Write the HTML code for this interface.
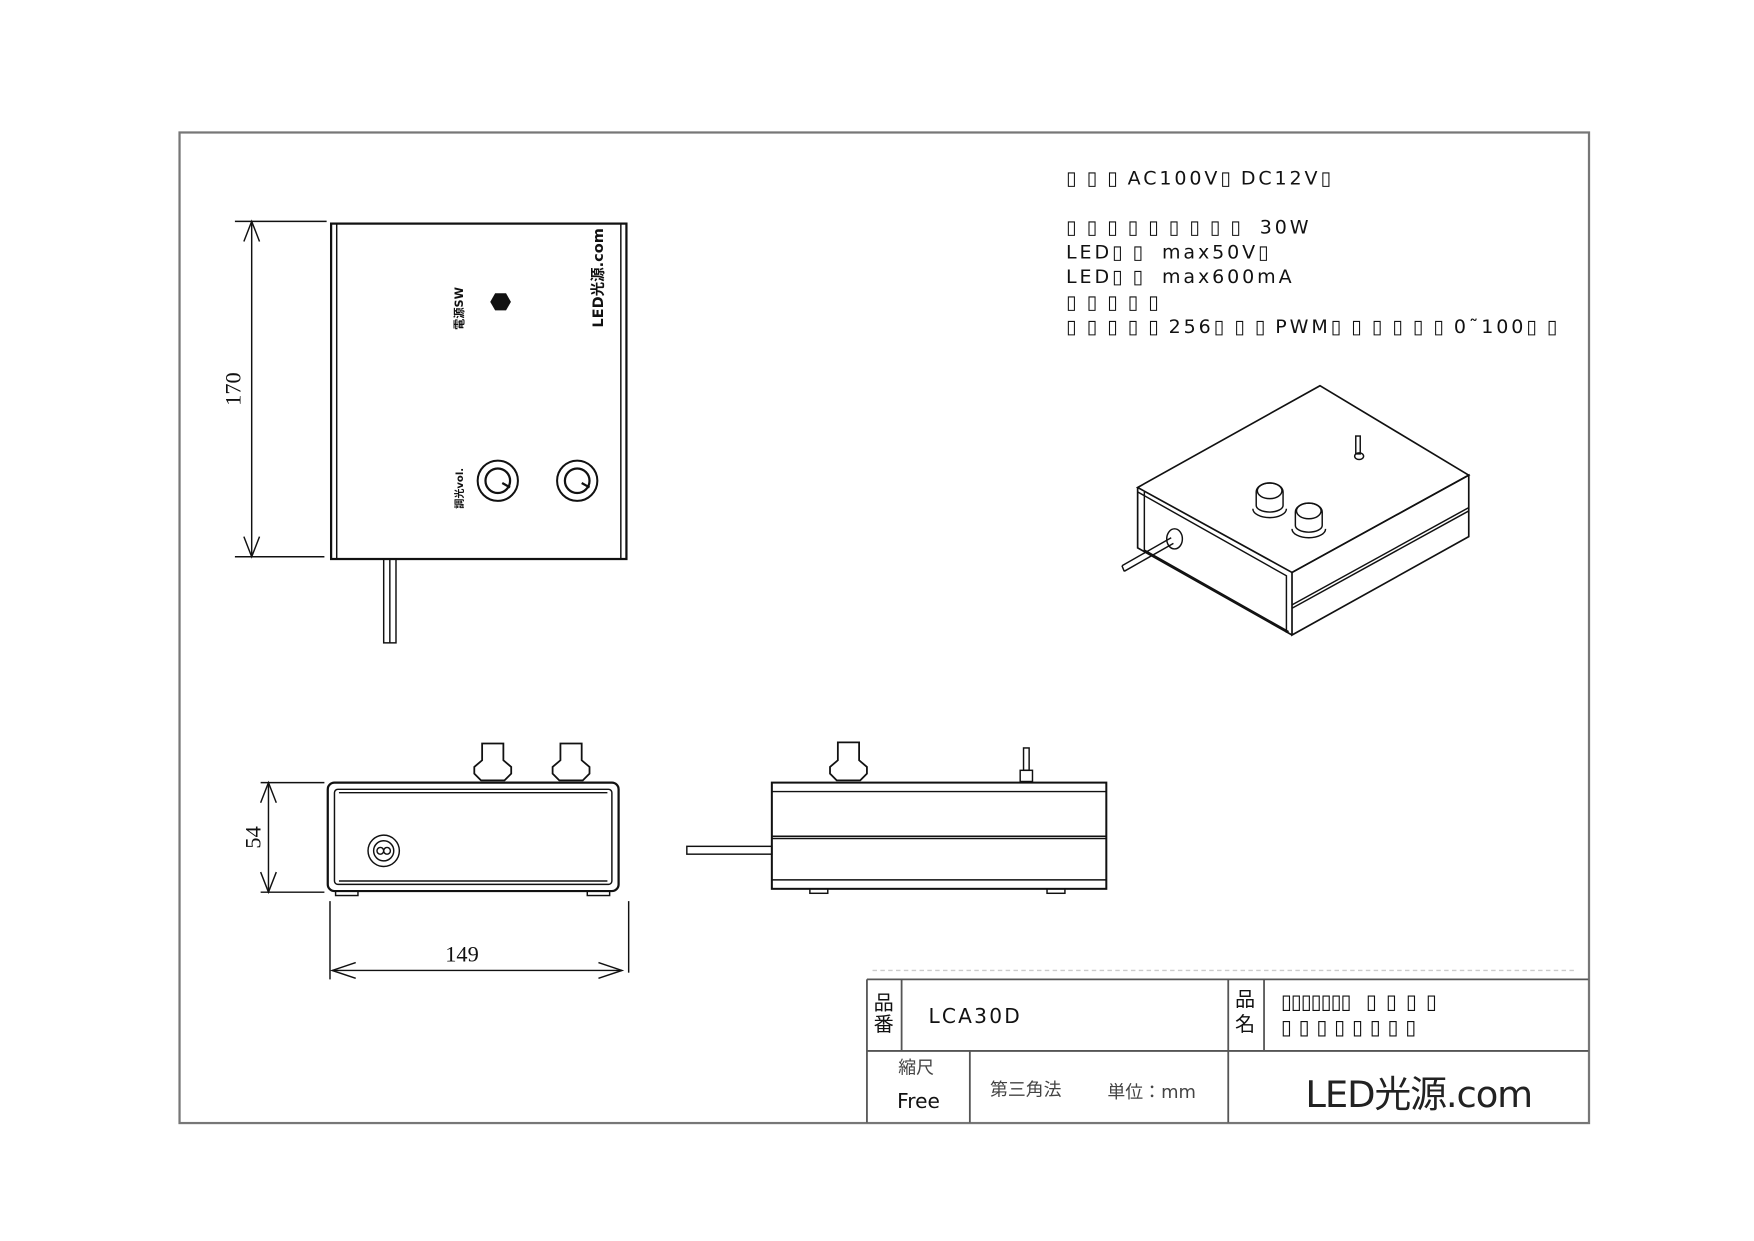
<!DOCTYPE html>
<html><head><meta charset="utf-8"><style>
html,body{margin:0;padding:0;background:#fff;width:1754px;height:1241px;overflow:hidden}
svg{display:block}
text{font-family:"DejaVu Sans","Liberation Sans","Noto Sans CJK JP",sans-serif;fill:#111}
.s{font-size:17px;letter-spacing:2.6px}
.b{letter-spacing:9px}
</style></head><body>
<svg width="1754" height="1241" viewBox="0 0 1568 1110" preserveAspectRatio="none" xmlns="http://www.w3.org/2000/svg">
<g fill="none" stroke="#111" stroke-width="1.3">
<rect x="160.5" y="118.5" width="1260" height="886" stroke="#777" stroke-width="2"/>
<!-- top view -->
<rect x="296" y="200" width="264" height="300" stroke-width="2"/>
<line x1="301" y1="200" x2="301" y2="500"/><line x1="555" y1="200" x2="555" y2="500"/>
<rect x="343" y="500" width="11" height="75"/><line x1="348.5" y1="500" x2="348.5" y2="575"/>
<circle cx="445" cy="430" r="18" stroke-width="1.8"/><circle cx="445" cy="430" r="11" stroke-width="2"/><line x1="449" y1="432" x2="456" y2="436" stroke-width="2"/>
<circle cx="516" cy="430" r="18" stroke-width="1.8"/><circle cx="516" cy="430" r="11" stroke-width="2"/><line x1="520" y1="432" x2="527" y2="436" stroke-width="2"/>
<polygon points="443,263 452,263 456,270 452,277 443,277 439,270" fill="#111"/>
<!-- dims 170 -->
<line x1="210" y1="198" x2="292" y2="198"/><line x1="210" y1="498" x2="290" y2="498"/>
<line x1="225" y1="198" x2="225" y2="498"/>
<polyline points="218,216 225,198 232,216"/><polyline points="218,480 225,498 232,480"/>
<!-- front view -->
<rect x="293" y="700" width="260" height="97" rx="6" stroke-width="2"/>
<rect x="299" y="706" width="248" height="85" rx="3"/>
<line x1="303" y1="709" x2="543" y2="709"/><line x1="303" y1="788" x2="543" y2="788"/>
<circle cx="343" cy="761" r="14"/><circle cx="343" cy="761" r="9"/><circle cx="340" cy="761" r="3"/><circle cx="346" cy="761" r="3"/>
<rect x="300" y="797" width="20" height="4"/><rect x="525" y="797" width="20" height="4"/>
<path d="M430,698 L424,692 L424,686 L431,680 L431,665 L450,665 L450,680 L457,686 L457,692 L451,698 Z" stroke-width="1.6"/>
<path d="M500,698 L494,692 L494,686 L501,680 L501,665 L520,665 L520,680 L527,686 L527,692 L521,698 Z" stroke-width="1.6"/>
<!-- dims 54 -->
<line x1="233" y1="700" x2="290" y2="700"/><line x1="233" y1="798" x2="290" y2="798"/>
<line x1="240" y1="700" x2="240" y2="798"/>
<polyline points="233,718 240,700 247,718"/><polyline points="233,780 240,798 247,780"/>
<!-- dims 149 -->
<line x1="295" y1="806" x2="295" y2="876"/><line x1="562" y1="806" x2="562" y2="870"/>
<line x1="297" y1="868" x2="556" y2="868"/>
<polyline points="318,861 297,868 318,875"/><polyline points="535,861 556,868 535,875"/>
<!-- side view -->
<rect x="690" y="700" width="299" height="95" stroke-width="1.8"/>
<line x1="690" y1="708" x2="989" y2="708"/><line x1="690" y1="748" x2="989" y2="748"/><line x1="690" y1="750" x2="989" y2="750"/><line x1="690" y1="787" x2="989" y2="787"/>
<rect x="614" y="757" width="76" height="7"/>
<rect x="724" y="795" width="16" height="4"/><rect x="936" y="795" width="16" height="4"/>
<path d="M748,698 L742,692 L742,686 L749,680 L749,664 L768,664 L768,680 L775,686 L775,692 L769,698 Z" stroke-width="1.6"/>
<rect x="915" y="669" width="5" height="20"/><rect x="912" y="689" width="11" height="10"/>
<!-- iso view -->
<polygon points="1017,436 1180,345 1313,425 1155,512" stroke-width="1.5"/>
<polygon points="1155,512 1313,425 1313,480 1155,568" stroke-width="1.5"/>
<line x1="1155" y1="541" x2="1313" y2="454"/><line x1="1155" y1="544" x2="1313" y2="457"/>
<polyline points="1017,436 1017,490 1155,568" stroke-width="1.5"/>
<polyline points="1023,440 1023,492 1152,565"/><polyline points="1017,440 1150,515 1150,566"/>
<line x1="1003" y1="506" x2="1047" y2="481"/><line x1="1005" y1="511" x2="1049" y2="486"/><line x1="1003" y1="506" x2="1005" y2="511"/>
<ellipse cx="1050" cy="482" rx="7" ry="9"/>
<path d="M1123,452 a12,6 0 0 0 24,0 l0,-12 a12,8 0 0 0 -24,0 Z"/><ellipse cx="1135" cy="439" rx="11" ry="7"/><path d="M1120,455 a15,8 0 0 0 30,0"/>
<path d="M1158,470 a12,6 0 0 0 24,0 l0,-12 a12,8 0 0 0 -24,0 Z"/><ellipse cx="1170" cy="457" rx="11" ry="7"/><path d="M1155,473 a15,8 0 0 0 30,0"/>
<rect x="1212" y="390" width="4" height="16"/><ellipse cx="1215" cy="408" rx="4" ry="3"/>
<!-- title block -->
<line x1="780" y1="868" x2="1410" y2="868" stroke="#ccc" stroke-dasharray="4,3"/>
<g stroke="#555" stroke-width="1.6">
<line x1="775" y1="876" x2="1420" y2="876"/><line x1="775" y1="940" x2="1420" y2="940"/>
<line x1="775" y1="876" x2="775" y2="1004"/><line x1="806" y1="876" x2="806" y2="940"/>
<line x1="1098" y1="876" x2="1098" y2="1004"/><line x1="1130" y1="876" x2="1130" y2="940"/>
<line x1="867" y1="940" x2="867" y2="1004"/>
</g>
</g>
<text x="215" y="348" transform="rotate(-90 215 348)" text-anchor="middle" style="font-family:'Liberation Serif',serif;font-size:20px">170</text>
<text x="233" y="749" transform="rotate(-90 233 749)" text-anchor="middle" style="font-family:'Liberation Serif',serif;font-size:20px">54</text>
<text x="413" y="860" text-anchor="middle" style="font-family:'Liberation Serif',serif;font-size:20px">149</text>
<text x="539" y="293" transform="rotate(-90 539 293)" style="font-size:13px;font-weight:bold">LED光源.com</text>
<text x="414" y="295" transform="rotate(-90 414 295)" style="font-size:10px;font-weight:bold">電源SW</text>
<text x="414" y="455" transform="rotate(-90 414 455)" style="font-size:9px;font-weight:bold">調光vol.</text>
<text class="s" x="953" y="165"><tspan class="b">▯▯▯</tspan>AC100V<tspan class="b">▯</tspan>DC12V▯</text>
<text class="s" x="953" y="209"><tspan class="b">▯▯▯▯▯▯▯▯▯</tspan>  30W</text>
<text class="s" x="953" y="231">LED<tspan class="b">▯▯</tspan>   max50V▯</text>
<text class="s" x="953" y="253">LED<tspan class="b">▯▯</tspan>   max600mA</text>
<text class="s" x="953" y="276"><tspan class="b">▯▯▯▯▯</tspan></text>
<text class="s" x="953" y="298"><tspan class="b">▯▯▯▯▯</tspan>256<tspan class="b">▯▯▯</tspan>PWM<tspan class="b">▯▯▯▯▯▯</tspan>0˜100<tspan class="b">▯▯</tspan></text>
<text x="790" y="903" text-anchor="middle" style="font-size:18px">品</text>
<text x="790" y="922" text-anchor="middle" style="font-size:18px">番</text>
<text x="1113" y="900" text-anchor="middle" style="font-size:18px">品</text>
<text x="1113" y="922" text-anchor="middle" style="font-size:18px">名</text>
<text x="830" y="915" style="font-size:18px;letter-spacing:2px">LCA30D</text>
<text x="1145" y="902" style="font-size:18px;letter-spacing:-1px">▯▯▯▯▯▯▯<tspan style="letter-spacing:8px"> ▯▯▯▯</tspan></text>
<text x="1145" y="925" style="font-size:18px;letter-spacing:6px">▯▯▯▯▯▯▯▯</text>
<text x="803" y="960" style="font-size:16px;fill:#444">縮尺</text>
<text x="802" y="991" style="font-size:18px">Free</text>
<text x="885" y="980" style="font-size:16px;fill:#444">第三角法</text>
<text x="990" y="982" style="font-size:16px;fill:#444">単位：mm</text>
<text x="1167" y="990" style="font-size:33px;fill:#222;letter-spacing:-1px">LED光源.com</text>
</svg>
</body></html>
